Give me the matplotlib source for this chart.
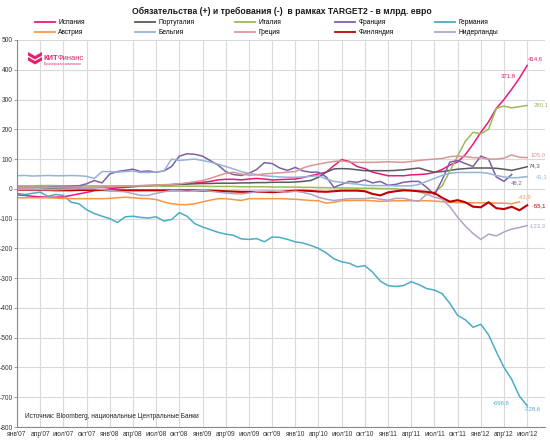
import matplotlib
matplotlib.use("Agg")
import matplotlib.pyplot as plt
from matplotlib.patches import Polygon
from matplotlib.lines import Line2D

plt.rcParams['font.family'] = ['Liberation Sans', 'DejaVu Sans']

# ---------------- data (monthly, index 0 = янв'07 ... 66 = июл'12) ----------------
spain = [-20, -22, -25, -27, -28, -28, -27, -22, -17, -12, -6, -3, 0, 3, 5, 7, 9, 10, 11, 12,
         14, 16, 18, 20, 22, 25, 30, 32, 32, 30, 33, 35, 33, 30, 31, 32, 33, 38, 44, 50,
         56, 78, 98, 92, 75, 68, 56, 50, 44, 44, 44, 47, 48, 50, 55, 65, 80, 90, 115, 150,
         190, 225, 270, 300, 335, 371.8, 414.6]
portugal = [5, 5, 4, 4, 3, 3, 3, 3, 3, 4, 5, 5, 6, 7, 8, 9, 10, 11, 12, 13,
            14, 15, 16, 17, 18, 18, 19, 19, 19, 20, 20, 21, 21, 22, 22, 22, 23, 25, 28, 39,
            56, 67, 68, 67, 64, 61, 61, 61, 61, 62, 64, 67, 70, 62, 56, 58, 62, 66, 68, 70,
            70, 70, 69, 66, 62, 68, 74.3]
italy = [10, 10, 10, 11, 11, 11, 10, 10, 10, 10, 10, 10, 10,
         10, 10, 10, 10, 10, 10, 9, 9, 9, 9, 9, 9, 8,
         8, 8, 8, 7, 7, 7, 7, 6, 6, 6, 6, 5, 5,
         4, 4, 3, 3, 3, 2, 2, 2, 1, 1, 0, -2, -5,
         -10, -18, -12, 10, 60, 110, 160, 190, 185, 200, 270, 278, 272, 276, 280.1]
france = [5, 5, 5, 6, 6, 7, 8, 9, 10, 17, 28, 20, 50, 58, 62, 66, 58, 60, 56, 60,
          75, 110, 118, 116, 110, 95, 80, 58, 48, 45, 52, 65, 88, 85, 70, 62, 72, 60, 56, 56,
          40, 5, 15, 25, 22, 30, 20, 25, 12, 15, 22, 25, 25, 5, -20, 30, 90, 95, 85, 75,
          110, 100, 40, 25, 48.2]
germany = [-15, -19, -15, -11, -25, -19, -22, -45, -50, -70, -83, -92, -100, -113, -94, -92, -96, -98, -94, -108,
           -103, -80, -92, -117, -128, -137, -146, -152, -156, -168, -170, -167, -178, -162, -163, -170, -178, -182, -190, -200,
           -215, -235, -245, -250, -262, -258, -280, -310, -325, -328, -325, -312, -322, -335, -340, -352, -385, -425, -440, -465,
           -455, -490, -547, -600, -640, -696.6, -728.6]
austria = [-30, -30, -30, -30, -30, -31, -32, -33, -33, -33, -33, -33, -32, -30, -28, -30, -32, -33, -36, -44,
           -50, -53, -53, -50, -44, -38, -33, -33, -36, -39, -33, -33, -33, -33, -33, -34, -35, -37, -39, -40,
           -48, -45, -40, -39, -39, -39, -40, -42, -41, -40, -40, -40, -40, -40, -41, -43, -45, -46, -47, -47,
           -47, -47, -48, -48, -50, -43.9]
belgium = [44, 45, 43, 44, 45, 44, 44, 45, 44, 42, 35, 58, 58, 56, 58, 60, 55, 55, 57, 60,
           100, 95, 98, 100, 95, 90, 83, 75, 67, 58, 52, 48, 44, 42, 40, 39, 39, 40, 42, 44,
           33, 25, 22, 18, 16, 12, 11, 11, 11, 10, 10, 10, 15, 25, 35, 45, 52, 55, 55, 55,
           55, 52, 45, 40, 37, 38, 41.1]
greece = [5, 5, 6, 6, 5, 5, 6, 6, 6, 5, 5, 6, 7, 8, 9, 10, 11, 12, 13, 14,
          15, 17, 20, 24, 28, 35, 44, 52, 56, 50, 46, 47, 50, 52, 54, 56, 58, 70, 78, 83,
          88, 92, 94, 90, 89, 89, 89, 90, 91, 90, 89, 92, 95, 98, 100, 102, 108, 110, 108, 105,
          104, 100, 100, 103, 114, 106, 105.0]
finland = [-3, -3, -4, -4, -4, -5, -5, -5, -4, -4, -4, -4, -5, -5, -5, -5, -5, -5, -5, -5, -5,
           -5, -5, -5, -6, -6, -7, -8, -9, -10, -10, -10, -10, -11, -10, -8, -6, -6, -7, -9, -10, -8, -6, -6,
           -6, -8, -17, -22, -12, -8, -5, -6, -8, -10, -14, -30, -43, -38, -45, -60, -62, -45, -65, -68, -60, -72, -55.1]
netherlands = [-2, -2, -3, -3, -3, -3, -2, -1, 0, 0, 0, -2, -5, -8, -10, -16, -22, -22, -15, -10,
               -5, -6, -8, -6, -5, -8, -11, -14, -16, -17, -14, -10, -8, -7, -9, -11, -8, -12, -18, -28,
               -35, -39, -36, -33, -33, -33, -30, -35, -38, -32, -32, -38, -42, -18, -28, -35, -60, -95, -125, -150,
               -170, -152, -158, -145, -135, -130, -123.3]

names = ["Испания", "Португалия", "Италия", "Франция", "Германия",
         "Австрия", "Бельгия", "Греция", "Финляндия", "Нидерланды"]
series = [spain, portugal, italy, france, germany, austria, belgium, greece, finland, netherlands]
colors = ["#e8197d", "#595959", "#9bbb59", "#7f5fa6", "#4bacc6",
          "#f79646", "#95b3d7", "#d99694", "#c00000", "#b3a2c7"]
widths = [1.1, 1.1, 1.1, 1.1, 1.1, 1.1, 1.1, 1.1, 1.5, 1.1]

months = ["янв", "апр", "июл", "окт"]
tick_pos = list(range(0, 67, 3))
tick_labels = [f"{months[(p // 3) % 4]}'{7 + p // 12:02d}" for p in tick_pos]
y_ticks = list(range(-800, 501, 100))

# end labels: (series index, point index from end (-1 last), text, dx px, dy px, ha)
end_labels = [
    (0, -1, "414,6", 1, 7, "left"),
    (0, -2, "371,8", -4, 2, "right"),
    (2, -1, "280,1", 6, 1, "left"),
    (7, -1, "105,0", 3, 3, "left"),
    (1, -1, "74,3", 1, 1, "left"),
    (6, -1, "41,1", 9, 0, "left"),
    (3, -1, "48,2", -1, -8, "left"),
    (5, -1, "-43,9", -2, 5, "left"),
    (8, -1, "-55,1", 6, -1, "left"),
    (9, -1, "-123,3", 2, 0, "left"),
    (4, -2, "-696,6", -10, -7, "right"),
    (4, -1, "-728,6", -3, -3, "left"),
]

# ---------------- figure ----------------
W, H = 550, 447
fig = plt.figure(figsize=(W / 100, H / 100), dpi=100)
fig.patch.set_facecolor("white")

def fx(px):
    return px / W

def fy(py):
    return 1 - py / H

ax_l, ax_r, ax_t, ax_b = 17, 545, 40, 427
ax = fig.add_axes([fx(ax_l), fy(ax_b), fx(ax_r - ax_l), (ax_b - ax_t) / H])
px_per_month = 7.73
ax.set_xlim(0, (ax_r - ax_l) / px_per_month)
ax.set_ylim(-800, 500)

for vals, c, lw in zip(series, colors, widths):
    ax.plot(range(len(vals)), vals, color=c, lw=lw, solid_joinstyle="round")

ax.set_xticks(tick_pos)
ax.set_xticklabels(tick_labels)
ax.set_yticks(y_ticks)
ax.set_yticklabels([str(v) for v in y_ticks])
ax.tick_params(axis="x", length=0, pad=3, labelsize=4.8, colors="#333333")
ax.tick_params(axis="y", length=2, width=0.6, pad=1, labelsize=4.8, colors="#333333", direction="out")
ax.tick_params(axis="y", colors="#333333", color="#898989")
ax.grid(True, color="#d9d9d9", lw=0.8)
ax.set_axisbelow(True)
for s in ["top", "right"]:
    ax.spines[s].set_visible(False)
for s in ["left", "bottom"]:
    ax.spines[s].set_color("#898989")
    ax.spines[s].set_linewidth(0.8)

# end labels
for si, pi, txt, dx, dy, ha in end_labels:
    vals = series[si]
    idx = len(vals) + pi
    ax.annotate(txt, xy=(idx, vals[idx]), xytext=(dx * 0.72, dy * 0.72),
                textcoords="offset points", fontsize=4.3, color=colors[si],
                ha=ha, va="center")

# title
fig.text(fx(282), fy(11), "Обязательства (+) и требования (-)  в рамках TARGET2 - в млрд. евро",
         ha="center", va="center", fontsize=6.2, fontweight="bold", color="#1a1a1a")

# legend: 5 columns x 2 rows
col_x = [37, 137, 237, 337, 437]
for ci in range(5):
    handles = [Line2D([], [], color=colors[ci], lw=1.3),
               Line2D([], [], color=colors[ci + 5], lw=1.3)]
    fig.legend(handles, [names[ci], names[ci + 5]], loc="upper left",
               bbox_to_anchor=(fx(col_x[ci] - 2), fy(19.5)), frameon=False,
               fontsize=4.8, handlelength=3.0, handletextpad=0.5,
               labelspacing=0.4, borderpad=0, borderaxespad=0)

# source note
fig.text(fx(25), fy(417), "Источник: Bloomberg, национальные Центральные Банки",
         ha="left", va="center", fontsize=4.7, color="#222222")

# logo
pink = "#e4206f"
for off in (0, 5):
    pts = [(28, 52 + off), (35, 56 + off), (42, 52 + off), (42, 55.5 + off), (35, 59.5 + off), (28, 55.5 + off)]
    fig.add_artist(Polygon([(fx(x), fy(y)) for x, y in pts], closed=True,
                           transform=fig.transFigure, facecolor=pink, edgecolor="none"))
logo = fig.text(fx(44), fy(58), "КИТ", ha="left", va="center", fontsize=5.4,
                fontweight="bold", color=pink)
fig.canvas.draw()
bb = logo.get_window_extent()
fig.text((bb.x1 - 1.5) / W, fy(58), "Финанс", ha="left", va="center", fontsize=5.4, color=pink)
fig.text(fx(44), fy(64.5), "Брокерская компания", ha="left", va="center", fontsize=2.6, color=pink)

fig.savefig("out.png", dpi=100, facecolor="white")
